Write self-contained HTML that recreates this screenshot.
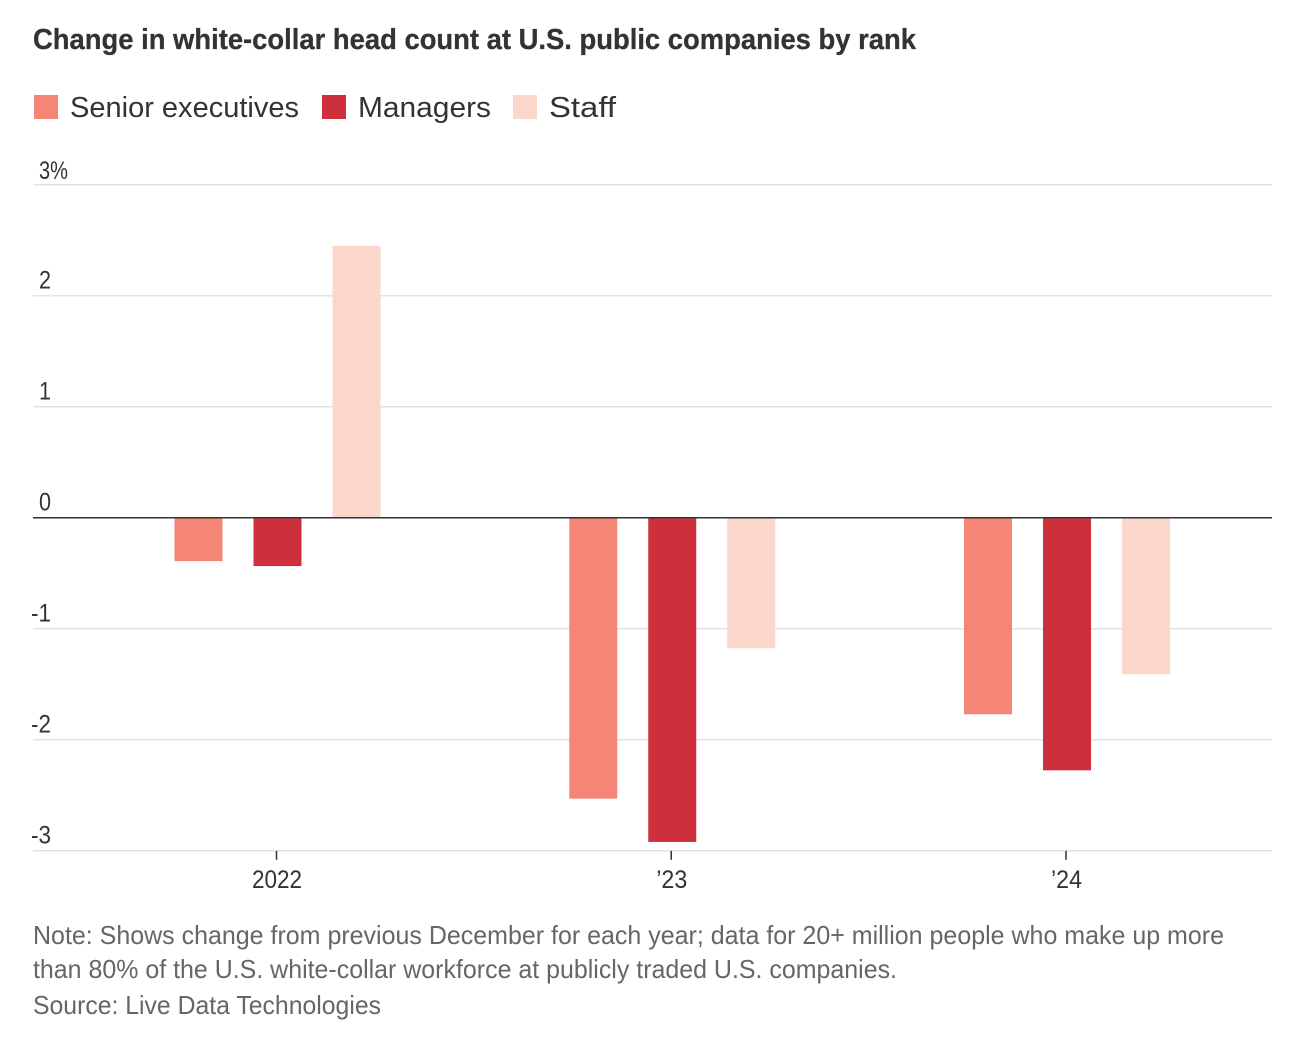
<!DOCTYPE html>
<html lang="en">
<head>
<meta charset="utf-8">
<title>Change in white-collar head count at U.S. public companies by rank</title>
<style>
html,body{margin:0;padding:0;background:#fff;}
svg{display:block;font-family:"Liberation Sans",sans-serif;}
</style>
</head>
<body>
<svg id="chart" width="1298" height="1052" viewBox="0 0 1298 1052" xmlns="http://www.w3.org/2000/svg">
  <text x="33" y="49" font-size="29" font-weight="700" fill="#333333" stroke="#333333" stroke-width="0.3" textLength="883" lengthAdjust="spacingAndGlyphs">Change in white-collar head count at U.S. public companies by rank</text>

  <g>
    <rect x="34" y="95" width="24" height="24" fill="#f58675"/>
    <text x="70" y="117" font-size="29" fill="#333333" textLength="229" lengthAdjust="spacingAndGlyphs">Senior executives</text>
    <rect x="322" y="95" width="24" height="24" fill="#cd303b"/>
    <text x="358" y="117" font-size="29" fill="#333333" textLength="133" lengthAdjust="spacingAndGlyphs">Managers</text>
    <rect x="513" y="95" width="24" height="24" fill="#fbd6cb"/>
    <text x="549" y="117" font-size="29" fill="#333333" textLength="67" lengthAdjust="spacingAndGlyphs">Staff</text>
  </g>

  <g id="grid"></g>
  <g id="bars"></g>
  <g id="axis"></g>

  <g>
    <text x="33" y="944" font-size="26" fill="#666666" textLength="1191" lengthAdjust="spacingAndGlyphs">Note: Shows change from previous December for each year; data for 20+ million people who make up more</text>
    <text x="33" y="978" font-size="26" fill="#666666" textLength="864" lengthAdjust="spacingAndGlyphs">than 80% of the U.S. white-collar workforce at publicly traded U.S. companies.</text>
    <text x="33" y="1014" font-size="26" fill="#666666" textLength="348" lengthAdjust="spacingAndGlyphs">Source: Live Data Technologies</text>
  </g>
</svg>
<script>
const categories = ['2022', '\u201923', '\u201924'];
const seriesNames = ['Senior executives', 'Managers', 'Staff'];
const seniorExecutives = [-0.39, -2.53, -1.77];
const managers = [-0.435, -2.92, -2.275];
const staff = [2.45, -1.175, -1.41];
const yTicks = [3, 2, 1, 0, -1, -2, -3];
const yTickLabels = ['3%', '2', '1', '0', '-1', '-2', '-3'];

const NS = 'http://www.w3.org/2000/svg';
const plotLeft = 33, plotRight = 1272;
const seriesValues = [seniorExecutives, managers, staff];
const seriesColors = ['#f58675', '#cd303b', '#fbd6cb'];
const barWidth = 48, barOffset = 79;

function y(v) { return 517.8 - v * 111; }
function x(i) { return 277.5 + i * 394.75; }
function make(tag, attrs) {
  const el = document.createElementNS(NS, tag);
  for (const k in attrs) el.setAttribute(k, attrs[k]);
  return el;
}

const grid = document.getElementById('grid');
const bars = document.getElementById('bars');
const axis = document.getElementById('axis');

yTicks.forEach(function (t, i) {
  const line = make('line', { x1: plotLeft, x2: plotRight, y1: y(t), y2: y(t), stroke: '#e3e3e3', 'stroke-width': 1.5 });
  
  
  grid.appendChild(line);
  const label = make('text', { x: t < 0 ? 31 : 39, y: y(t) - (t === 3 ? 6 : 7.5), 'font-size': 25, fill: '#333333' });
  
  
  label.setAttribute('textLength', yTickLabels[i].length === 2 ? (t < 0 ? 20 : 29) : 12);
  label.setAttribute('lengthAdjust', 'spacingAndGlyphs');
  label.textContent = yTickLabels[i];
  grid.appendChild(label);
});

seriesValues.forEach(function (values, s) {
  values.forEach(function (v, c) {
    const top = Math.min(y(v), y(0));
    const rect = make('rect', {
      x: x(c) + (s - 1) * barOffset - barWidth / 2,
      y: top,
      width: barWidth,
      height: Math.abs(y(v) - y(0)),
      fill: seriesColors[s]
    });
    
    
    rect.setAttribute('aria-label', seriesNames[s] + ' ' + categories[c]);
    bars.appendChild(rect);
  });
});

const zero = make('line', { x1: plotLeft, x2: plotRight, y1: y(0), y2: y(0), stroke: '#333333', 'stroke-width': 1.5 });


axis.appendChild(zero);

categories.forEach(function (c, i) {
  const tick = make('line', { x1: x(i) - 1, x2: x(i) - 1, y1: y(-3), y2: y(-3) + 9, stroke: '#333333', 'stroke-width': 1.5 });
  
  
  axis.appendChild(tick);
  const label = make('text', { x: x(i) - 0.5, y: 888, 'font-size': 25, fill: '#333333', 'text-anchor': 'middle' });
  
  
  label.setAttribute('textLength', c.length === 4 ? 50 : 31);
  label.setAttribute('lengthAdjust', 'spacingAndGlyphs');
  label.textContent = c;
  axis.appendChild(label);
});
</script>
</body>
</html>
